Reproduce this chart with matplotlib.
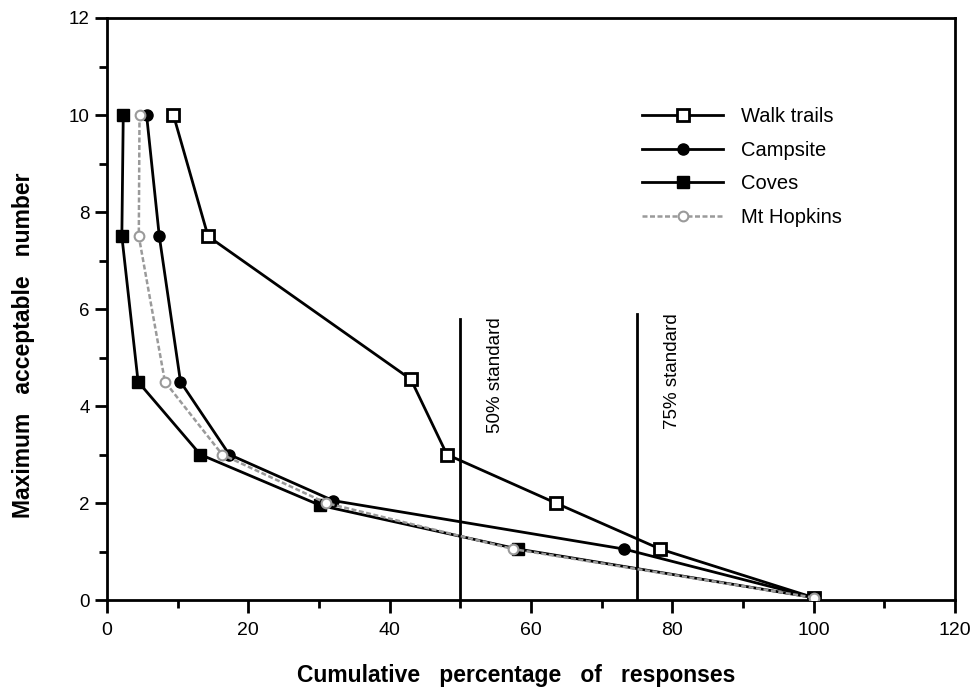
import matplotlib
matplotlib.use("Agg")
import matplotlib.pyplot as plt
from matplotlib.ticker import MultipleLocator

levels = [10, 7.5, 4.5, 3, 2, 1, 0]
walk_trails = [9.4, 14.3, 43.0, 48.1, 63.5, 78.3, 100.0]
campsite = [5.6, 7.4, 10.4, 17.3, 32.0, 73.2, 100.0]
coves = [2.3, 2.1, 4.4, 13.2, 30.2, 58.2, 100.0]
mt_hopkins = [4.6, 4.5, 8.2, 16.3, 31.0, 57.5, 100.0]
walk_y = [10, 7.5, 4.55, 3, 2, 1.05, 0.05]
camp_y = [10, 7.5, 4.5, 3, 2.05, 1.05, 0.05]
coves_y = [10, 7.5, 4.5, 3, 1.95, 1.05, 0.05]
hop_y = [10, 7.5, 4.5, 3, 2, 1.05, 0.05]
standards = [50, 75]
standard_labels = ["50% standard", "75% standard"]
standard_tops = [5.8, 5.9]

plt.rcParams['font.family'] = ['Liberation Sans', 'DejaVu Sans']

fig = plt.figure(figsize=(9.79, 6.87), dpi=100)
ax = fig.add_axes([0.1093, 0.1266, 0.8662, 0.8472])

ax.plot(walk_trails, walk_y, color='black', lw=2, marker='s', ms=9,
        mfc='white', mec='black', mew=2, label='Walk trails', zorder=4)
ax.plot(campsite, camp_y, color='black', lw=2, marker='o', ms=8,
        mfc='black', mec='black', label='Campsite', zorder=4)
ax.plot(coves, coves_y, color='black', lw=2, marker='s', ms=9,
        mfc='black', mec='black', label='Coves', zorder=4)
ax.plot(mt_hopkins, hop_y, color='#9a9a9a', lw=1.8, ls=(0, (2, 1)), marker='o', ms=7,
        mfc='white', mec='#9a9a9a', mew=1.5, label='Mt Hopkins', zorder=5)

for xv, top, lab in zip(standards, standard_tops, standard_labels):
    ax.plot([xv, xv], [0, top], color='black', lw=2, zorder=3)
    ax.text(xv + 5.0, top + 0.02, lab, rotation=90, ha='center', va='top', fontsize=13.5)

ax.set_xlim(0, 120)
ax.set_ylim(0, 12)
ax.xaxis.set_major_locator(MultipleLocator(20))
ax.xaxis.set_minor_locator(MultipleLocator(10))
ax.yaxis.set_major_locator(MultipleLocator(2))
ax.yaxis.set_minor_locator(MultipleLocator(1))
ax.tick_params(which='both', direction='out', width=2, labelsize=13.5)
ax.tick_params(which='major', length=9)
ax.tick_params(which='minor', length=6)
ax.tick_params(axis='x', pad=7, labelsize=14)
for s in ax.spines.values():
    s.set_linewidth(2)

ax.set_xlabel('Cumulative   percentage   of   responses', fontsize=16.5, fontweight='bold')
ax.set_ylabel('Maximum   acceptable   number', fontsize=16.5, fontweight='bold')
ax.xaxis.set_label_coords(0.482, -0.11)
ax.yaxis.set_label_coords(-0.085, 0.438)

leg = ax.legend(loc='upper left', bbox_to_anchor=(0.61, 0.878), frameon=False, fontsize=14.5,
                handlelength=4, labelspacing=0.72, handletextpad=0.9)

fig.savefig('out.png', dpi=100)
